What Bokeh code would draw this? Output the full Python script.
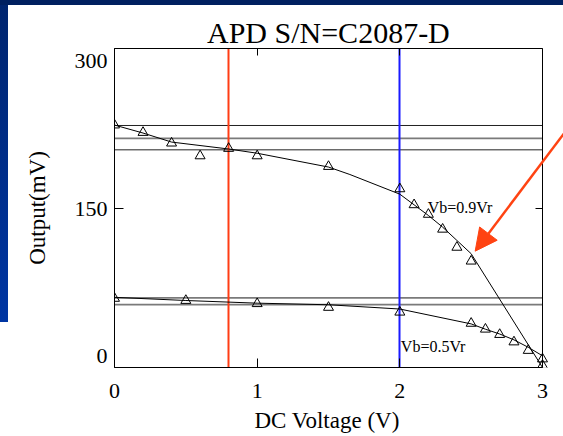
from bokeh.plotting import figure
from bokeh.models import Range1d, LinearAxis, FixedTicker, Arrow, NormalHead, Div, Title
from bokeh.layouts import column, row
from bokeh.embed import file_html
from bokeh.resources import INLINE
from bokeh.core.properties import value

# Output vs DC voltage, bias Vb = 0.9 Vr (measured points and smooth trend)
v09_x = [0.0, 0.2, 0.4, 0.6, 0.8, 1.0, 1.5, 2.0, 2.1, 2.2, 2.3, 2.4, 2.5, 3.0]
v09_y = [228, 221, 211, 199, 206, 199, 189, 168, 153, 144, 130, 113, 100, 2]
v09_fit_x = [0.0, 0.2, 0.4, 0.8, 1.0, 1.5, 1.65, 2.0, 2.1, 2.2, 2.3, 2.4, 2.5, 3.0]
v09_fit_y = [228, 220.5, 212, 205.5, 201.5, 188.5, 181.5, 163, 153, 143, 132, 119.5, 107, 0]

# Output vs DC voltage, bias Vb = 0.5 Vr
v05_x = [0.0, 0.5, 1.0, 1.5, 2.0, 2.5, 2.6, 2.7, 2.8, 2.9, 3.0]
v05_y = [65, 63, 60, 56.5, 52, 41.5, 36, 31, 24, 16, 8]
v05_fit_x = [0.0, 0.5, 1.0, 1.5, 2.0, 2.5, 2.6, 2.7, 2.8, 2.9, 3.0]
v05_fit_y = [66, 63, 60.5, 59, 55, 41, 36, 31.5, 26, 19, 11]

# reference output levels (mV)
levels_dark = [227.6, 204.7]
levels_grey = [215.5, 65.4, 59.2]

# voltage markers (V)
volt_red = [0.8]
volt_blue = [2.0]

x_ticks = [0, 1, 2, 3]
y_ticks = [0, 150, 300]
X_MIN, X_MAX = 0, 3
Y_MIN, Y_MAX = 0, 300

SERIF = "Liberation Serif"
BLACK = "#000000"

# the plotting area runs on to the right edge of the page so the pointer arrow
# can start outside the boxed axes; the box itself stops at X_MAX
AXES_W, FRAME_W, FRAME_H = 428, 449, 319
x_view_end = X_MAX * FRAME_W / AXES_W

p = figure(frame_width=FRAME_W, frame_height=FRAME_H,
           x_range=Range1d(X_MIN, x_view_end), y_range=Range1d(Y_MIN, Y_MAX),
           output_backend="svg", toolbar_location=None,
           min_border_left=106, min_border_right=0, min_border_top=43, min_border_bottom=69,
           title="APD S/N=C2087-D", y_axis_label="Output(mV)")
p.background_fill_color = "white"
p.border_fill_color = "white"
p.outline_line_color = None
p.grid.visible = False

# titles centred over the boxed axes (text widths of the serif face)
p.title.align = "left"
p.title.offset = (AXES_W - 243) / 2
p.title.text_font = SERIF
p.title.text_font_size = "30px"
p.title.text_font_style = "normal"
p.title.text_color = BLACK
p.title.standoff = 0

x_label = Title(text="DC Voltage (V)", align="left", offset=(AXES_W - 148) / 2,
                text_font=SERIF, text_font_size="23px", text_font_style="normal",
                text_color=BLACK, standoff=10)
p.add_layout(x_label, "below")

for ax, ticks in ((p.xaxis[0], x_ticks), (p.yaxis[0], y_ticks)):
    ax.ticker = FixedTicker(ticks=ticks)
    ax.major_tick_in = 9
    ax.major_tick_out = 0
    ax.minor_tick_line_color = None
    ax.axis_line_color = BLACK
    ax.major_tick_line_color = BLACK
    ax.major_label_text_font = SERIF
    ax.major_label_text_font_size = "22px"
    ax.major_label_text_color = BLACK
    ax.axis_label_text_font = SERIF
    ax.axis_label_text_font_size = "23px"
    ax.axis_label_text_font_style = "normal"
    ax.axis_label_text_color = BLACK
p.xaxis.bounds = (X_MIN, X_MAX)
p.xaxis.major_label_standoff = 16
p.yaxis.major_label_standoff = 7
p.yaxis.axis_label_standoff = 22
# keep the end labels inside the box's height
p.yaxis.major_label_overrides = {300: "\n300", 0: "0\n"}
p.yaxis.major_label_text_line_height = 0.95

# bare tick axes closing the box on top and on the right (at X_MAX)
top_axis = LinearAxis(ticker=FixedTicker(ticks=x_ticks), bounds=(X_MIN, X_MAX),
                      major_tick_in=7, major_tick_out=0, minor_tick_line_color=None,
                      major_label_text_font_size="0px", major_label_text_color=None,
                      major_label_standoff=0, axis_line_color=BLACK, major_tick_line_color=BLACK)
p.add_layout(top_axis, "above")
right_axis = LinearAxis(ticker=FixedTicker(ticks=y_ticks), fixed_location=X_MAX,
                        major_tick_in=7, major_tick_out=0, minor_tick_line_color=None,
                        major_label_text_font_size="0px", major_label_text_color=None,
                        major_label_standoff=0, axis_line_color=BLACK, major_tick_line_color=BLACK)
p.add_layout(right_axis, "right")

# reference levels across the box
n_dark, n_grey = len(levels_dark), len(levels_grey)
p.segment(x0=[X_MIN] * n_dark, x1=[X_MAX] * n_dark, y0=levels_dark, y1=levels_dark,
          line_color="#222222", line_width=1)
p.segment(x0=[X_MIN] * n_grey, x1=[X_MAX] * n_grey, y0=levels_grey, y1=levels_grey,
          line_color="#7a7a7a", line_width=1.8)

# voltage markers
p.vspan(x=volt_red, line_color="#ff3c14", line_width=2)
p.vspan(x=volt_blue, line_color="#1a1aff", line_width=2)

# trend curves and measured points
p.line(v09_fit_x, v09_fit_y, line_color=BLACK, line_width=1)
p.line(v05_fit_x, v05_fit_y, line_color=BLACK, line_width=1)
p.scatter(v09_x, v09_y, marker="triangle", size=10, fill_color=None, line_color=BLACK, line_width=1)
p.scatter(v05_x, v05_y, marker="triangle", size=10, fill_color=None, line_color=BLACK, line_width=1)

# curve labels
p.text(x=[2.196], y=[150.2], text=["Vb=0.9Vr"], text_font=value(SERIF), text_font_size="16px",
       text_color=BLACK, text_baseline="alphabetic", text_align="left")
p.text(x=[2.0], y=[19.7], text=["Vb=0.5Vr"], text_font=value(SERIF), text_font_size="16px",
       text_color=BLACK, text_baseline="alphabetic", text_align="left", x_offset=1)

# pointer arrow
ARROW_COLOR = "#ff4312"
arrow_start = (3.231, 234.4)
arrow_tip = (2.528, 109.4)
p.add_layout(Arrow(end=NormalHead(size=22, fill_color=ARROW_COLOR, line_color=ARROW_COLOR),
                   x_start=arrow_start[0], y_start=arrow_start[1],
                   x_end=arrow_tip[0], y_end=arrow_tip[1],
                   line_color=ARROW_COLOR, line_width=2.5))

# slide bands around the chart
top_band = Div(width=563, height=5, margin=0, styles={"background-color": "#002060"})
left_band = Div(width=8, height=431, margin=0,
                styles={"background": "linear-gradient(to bottom, #00256f 0px, #0036a3 317px, #ffffff 317px, #ffffff 431px)"})
layout = column(top_band, row(left_band, p, spacing=0), spacing=0)

open("out.html", "w").write(file_html(layout, INLINE))
